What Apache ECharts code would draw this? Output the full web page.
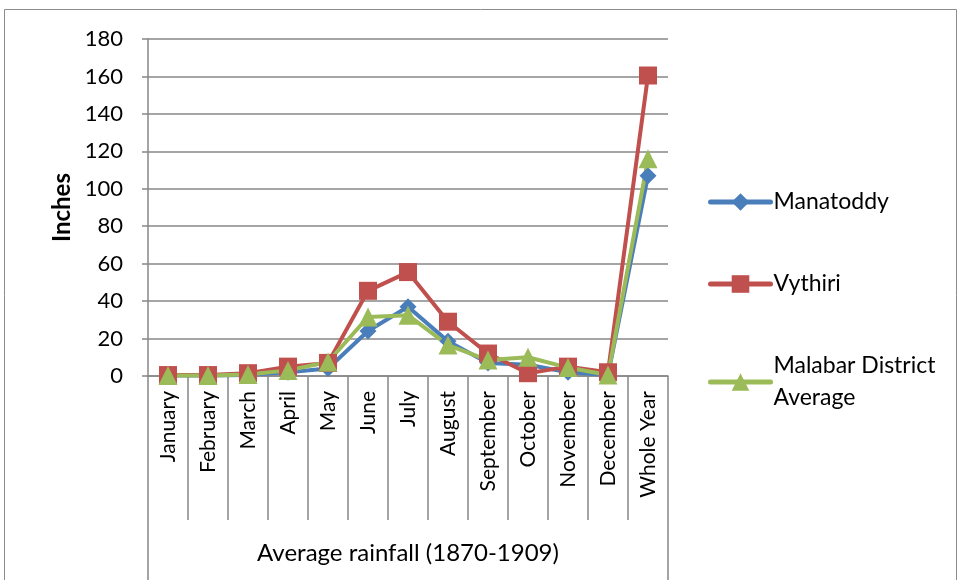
<!DOCTYPE html>
<html>

<head>
    <meta charset="utf-8">
    <title></title>
    <script src="https://cdn.jsdelivr.net/npm/echarts@6/dist/echarts.min.js"></script>
    <style>
        body {
            margin: 0;
            background: #fff;
        }

        #main {
            width: 958px;
            height: 580px;
        }
    </style>
</head>

<body>
    <div id="main"></div>
    <script type="text/javascript">
        // 数据
        var months = ['January', 'February', 'March', 'April', 'May', 'June', 'July',
            'August', 'September', 'October', 'November', 'December', 'Whole Year'];
        var manatoddy = [0.3, 0.3, 0.6, 2, 4, 24, 37, 18.5, 7, 6, 2, 0.5, 107];
        var vythiri = [0.5, 0.5, 1.5, 5, 7, 45.5, 55.5, 29, 12, 1.5, 5, 2, 160.5];
        var malabar = [0.3, 0.3, 0.8, 3, 7.5, 31.5, 32.5, 16.5, 8.5, 10, 4.5, 0.5, 116];
        var yTicks = [0, 180, 20];

        var gray = '#878787';
        var font = 'Lato';

        var myChart = echarts.init(document.getElementById('main'));
        var option = {
            animation: false,
            textStyle: { fontFamily: font },
            grid: { left: 148, right: 290, top: 39, bottom: 204 },
            graphic: [{
                type: 'rect',
                shape: { x: 4.5, y: 9.5, width: 952, height: 620 },
                style: { fill: 'none', stroke: '#8c8c8c', lineWidth: 1 }
            }],
            legend: {
                orient: 'vertical',
                left: 703,
                top: 181,
                itemGap: 50,
                itemWidth: 60,
                itemHeight: 22,
                lineStyle: { width: 5, cap: 'round' },
                textStyle: { fontSize: 23, color: '#000', lineHeight: 32, fontFamily: font, padding: [0, 0, 0, -2] },
                formatter: function (name) {
                    return name === 'Malabar District Average' ? 'Malabar District\nAverage' : name;
                },
                data: ['Manatoddy', 'Vythiri', 'Malabar District Average']
            },
            xAxis: [{
                type: 'category',
                data: months,
                boundaryGap: true,
                axisLine: { lineStyle: { color: gray, width: 1.5 } },
                axisTick: { show: true, interval: 0, length: 144, lineStyle: { color: gray, width: 1.5 } },
                axisLabel: { rotate: 90, interval: 0, margin: 15, fontSize: 21, color: '#000', fontFamily: font },
                name: 'Average rainfall (1870-1909)',
                nameLocation: 'middle',
                nameGap: 165,
                nameTextStyle: { fontSize: 24, color: '#000', fontFamily: font }
            }, {
                type: 'category',
                position: 'bottom',
                offset: 0,
                data: [''],
                boundaryGap: true,
                axisLine: { show: false },
                axisTick: { show: true, length: 210, lineStyle: { color: gray, width: 1.5 } },
                axisLabel: { show: false }
            }],
            yAxis: {
                type: 'value',
                min: yTicks[0],
                max: yTicks[1],
                interval: yTicks[2],
                name: 'Inches',
                nameLocation: 'middle',
                nameGap: 74,
                nameRotate: 90,
                nameTextStyle: { fontSize: 24, fontWeight: 'bold', color: '#000', fontFamily: font },
                axisLine: { show: true, lineStyle: { color: gray, width: 1.5 } },
                axisTick: { show: true, length: 6, lineStyle: { color: gray, width: 1.5 } },
                axisLabel: { fontSize: 22, color: '#000', margin: 25, fontFamily: font },
                splitLine: { lineStyle: { color: gray, width: 1.5 } }
            },
            series: [{
                name: 'Manatoddy',
                type: 'line',
                data: manatoddy,
                symbol: 'diamond',
                symbolSize: 17,
                color: '#4A7EBB',
                lineStyle: { width: 4 }
            }, {
                name: 'Vythiri',
                type: 'line',
                data: vythiri,
                symbol: 'rect',
                symbolSize: 18,
                color: '#C0504D',
                lineStyle: { width: 4 }
            }, {
                name: 'Malabar District Average',
                type: 'line',
                data: malabar,
                symbol: 'triangle',
                symbolSize: 19,
                color: '#9BBB59',
                lineStyle: { width: 4 }
            }]
        };
        myChart.setOption(option);
    </script>
</body>

</html>
